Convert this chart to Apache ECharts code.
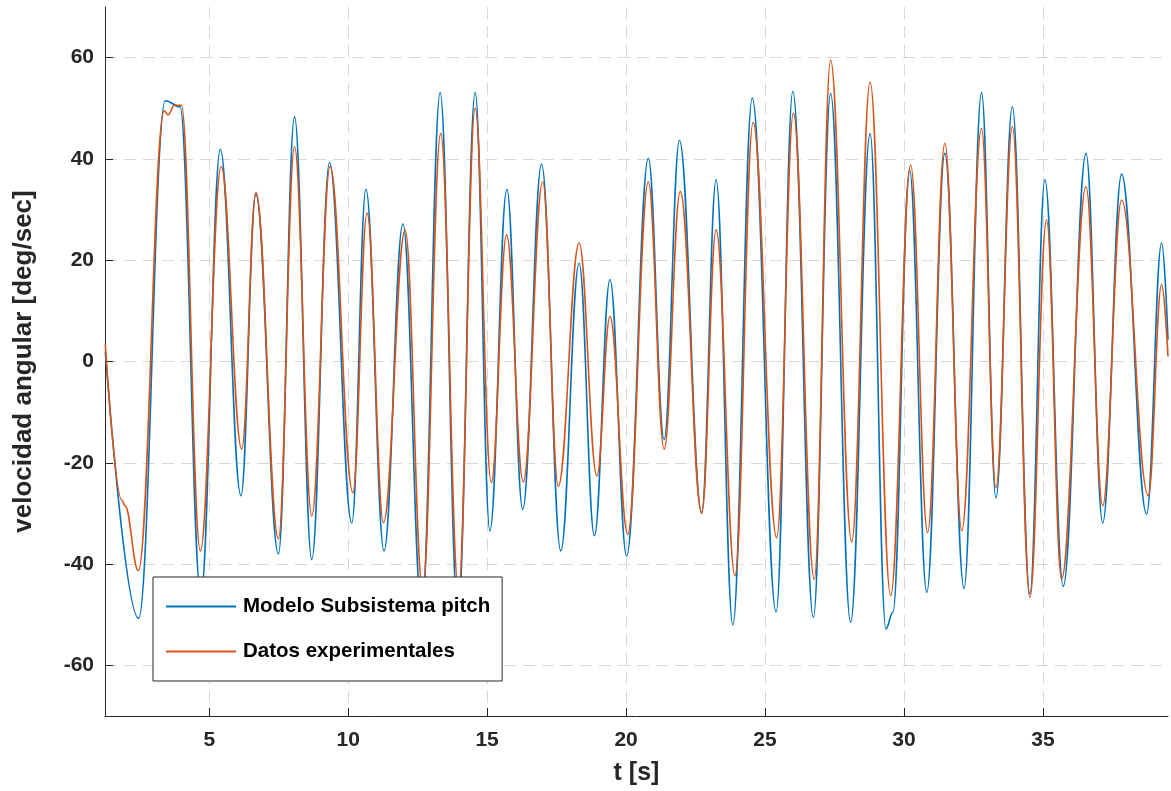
<!DOCTYPE html>
<html>
<head>
<meta charset="utf-8">
<script src="https://cdn.jsdelivr.net/npm/echarts@6/dist/echarts.min.js"></script>
<style>
html,body{margin:0;padding:0;background:#fff;}
#chart{width:1171px;height:791px;}
</style>
</head>
<body>
<div id="chart"></div>
<script>
// Extrema (time in s, angular velocity in deg/sec)
const modelTime = [1.26, 2.46, 3.42, 3.95, 4.70, 5.40, 6.14, 6.68, 7.49, 8.07, 8.69, 9.33, 10.13, 10.64, 11.29, 11.97, 12.65, 13.31, 13.95, 14.57, 15.10, 15.71, 16.28, 16.96, 17.65, 18.31, 18.86, 19.42, 20.02, 20.80, 21.37, 21.92, 22.72, 23.24, 23.84, 24.54, 25.40, 26.00, 26.74, 27.36, 28.08, 28.78, 29.35, 29.60, 30.20, 30.82, 31.47, 32.16, 32.79, 33.31, 33.90, 34.53, 35.07, 35.73, 36.55, 37.15, 37.83, 38.73, 39.27, 39.50];
const modelValue = [2, -50.7, 51.5, 50.3, -46, 41.9, -26.5, 33, -38, 48.3, -39.1, 39.3, -31.9, 34, -37.4, 27.2, -49, 53.1, -50, 53.1, -33.4, 34, -29.2, 39, -37.4, 19.4, -34.4, 16.2, -38.4, 40.1, -15.4, 43.7, -29.8, 35.9, -52, 52, -49.4, 53.3, -50.5, 52.9, -51.5, 45, -52.8, -49.5, 37.8, -45.6, 41.1, -44.8, 53.1, -26.9, 50.3, -45.9, 35.9, -44.4, 41.1, -31.9, 37, -30.1, 23.4, 4.3];

const expTime = [1.26, 1.85, 1.97, 2.45, 3.38, 3.52, 3.75, 4.00, 4.68, 5.43, 6.17, 6.68, 7.49, 8.07, 8.69, 9.35, 10.17, 10.68, 11.27, 12.05, 12.68, 13.33, 13.97, 14.57, 15.15, 15.70, 16.30, 17.00, 17.56, 18.31, 18.95, 19.42, 20.06, 20.80, 21.37, 21.95, 22.72, 23.24, 23.92, 24.57, 25.42, 26.02, 26.77, 27.36, 28.12, 28.78, 29.52, 30.24, 30.85, 31.47, 32.08, 32.79, 33.31, 33.90, 34.53, 35.13, 35.67, 36.55, 37.15, 37.83, 38.79, 39.27, 39.50];
const expValue = [3.5, -27.3, -28.5, -41.3, 49.5, 48.7, 50.6, 50.6, -37.4, 38.5, -17.3, 33.4, -35, 42.4, -30.5, 38.5, -25.9, 29.3, -31.8, 26, -45, 45, -45, 50, -23.9, 25, -23.8, 35.5, -24.6, 23.4, -22.6, 8.9, -34.1, 35.5, -17.3, 33.6, -30, 26, -42.3, 47.2, -34.8, 49, -43, 59.5, -35.6, 55.2, -46.2, 38.8, -33.8, 43.1, -33.4, 46, -24.9, 46.4, -46.6, 28, -43, 34.5, -28.5, 31.9, -26.5, 15.2, 1.0];

const xTicks = [5, 10, 15, 20, 25, 30, 35];
const yTicks = [-60, -40, -20, 0, 20, 40, 60];
const seriesNames = ['Modelo Subsistema pitch', 'Datos experimentales'];

const modelData = modelTime.map((t, i) => [t, modelValue[i]]);
const expData = expTime.map((t, i) => [t, expValue[i]]);

const axisColor = '#262626';
const gridColor = '#d8d8d8';
const fontFam = 'Liberation Sans, Arial, sans-serif';

const chart = echarts.init(document.getElementById('chart'), null, {renderer: 'canvas'});
chart.setOption({
  animation: false,
  backgroundColor: '#ffffff',
  grid: {left: 105, right: 3, top: 7, bottom: 74, containLabel: false},
  legend: {
    data: seriesNames,
    orient: 'vertical',
    left: 153,
    top: 577,
    padding: [19, 12, 19, 13],
    itemGap: 24,
    itemWidth: 70,
    itemHeight: 2,
    icon: 'rect',
    backgroundColor: '#ffffff',
    borderColor: axisColor,
    borderWidth: 1,
    borderRadius: 0,
    z: 10,
    textStyle: {fontFamily: fontFam, fontWeight: 'bold', fontSize: 20.5, color: '#000', padding: [0, 0, 0, 2]}
  },
  xAxis: {
    type: 'value',
    min: 1.25,
    max: 39.5,
    name: 't [s]',
    nameLocation: 'middle',
    nameGap: 45,
    nameTextStyle: {fontFamily: fontFam, fontWeight: 'bold', fontSize: 25, color: axisColor},
    axisLine: {show: true, onZero: false, lineStyle: {color: axisColor, width: 1}},
    axisTick: {show: true, inside: true, length: 8, customValues: xTicks, lineStyle: {color: axisColor, width: 1}},
    axisLabel: {customValues: xTicks, margin: 14, fontFamily: fontFam, fontWeight: 'bold', fontSize: 21, color: axisColor},
    splitLine: {show: true, lineStyle: {color: gridColor, width: 1, type: [12, 7]}}
  },
  yAxis: {
    type: 'value',
    min: -70,
    max: 70,
    name: 'velocidad angular [deg/sec]',
    nameLocation: 'middle',
    nameGap: 68,
    nameTextStyle: {fontFamily: fontFam, fontWeight: 'bold', fontSize: 26, color: axisColor},
    axisLine: {show: true, onZero: false, lineStyle: {color: axisColor, width: 1}},
    axisTick: {show: true, inside: true, length: 8, customValues: yTicks, lineStyle: {color: axisColor, width: 1}},
    axisLabel: {customValues: yTicks, margin: 11, fontFamily: fontFam, fontWeight: 'bold', fontSize: 21, color: axisColor},
    splitLine: {show: true, lineStyle: {color: gridColor, width: 1, type: [12, 7]}}
  },
  series: [
    {
      name: seriesNames[0], type: 'line', data: modelData,
      symbol: 'none', smooth: 0.4, smoothMonotone: 'x', clip: true,
      lineStyle: {color: '#0072BD', width: 1.6}, itemStyle: {color: '#0072BD'}, z: 2
    },
    {
      name: seriesNames[1], type: 'line', data: expData,
      symbol: 'none', smooth: 0.4, smoothMonotone: 'x', clip: true,
      lineStyle: {color: '#D95319', width: 1.6}, itemStyle: {color: '#D95319'}, z: 3
    }
  ]
});
</script>
</body>
</html>
